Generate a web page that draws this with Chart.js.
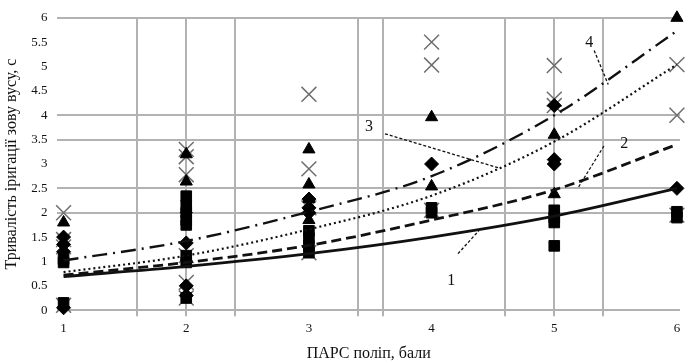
<!DOCTYPE html>
<html>
<head>
<meta charset="utf-8">
<script src="https://cdn.jsdelivr.net/npm/chart.js@4.4.1/dist/chart.umd.min.js"></script>
<style>
  html, body { margin: 0; padding: 0; background: #fff; }
  #wrap { width: 692px; height: 363px; }
  canvas { filter: blur(0.4px); }
</style>
</head>
<body>
<div id="wrap"><canvas id="myChart" width="692" height="363"></canvas></div>
<script>
// axis labels + the few grid lines that show in the scan
const xTickLabels = [1, 2, 3, 4, 5, 6]
const yTickLabels = [0, 0.5, 1, 1.5, 2, 2.5, 3, 3.5, 4, 4.5, 5, 5.5, 6]
const xGridLines = [1.6, 2, 2.4, 3.4, 3.6, 4.6, 5, 5.4]
const yGridLines = [0, 2, 2.5, 3.5, 4, 6]

// measured points
const diamondX = [1, 1, 1, 1, 2, 2, 2, 3, 3, 3, 4, 5, 5, 5, 6]
const diamondY = [1.5, 1.35, 1.2, 0.05, 1.38, 0.5, 0.3, 2.28, 2.1, 2.0, 3.0, 4.2, 3.09, 3.0, 2.5]

const squareX = [1, 1, 1, 2, 2, 2, 2, 2, 2, 2, 2, 3, 3, 3, 3, 4, 4, 5, 5, 5, 5, 6, 6]
const squareY = [1.05, 0.98, 0.15, 2.34, 2.15, 2.0, 1.85, 1.75, 1.12, 0.98, 0.25, 1.63, 1.48, 1.32, 1.18, 2.1, 2.0, 2.05, 1.9, 1.8, 1.32, 2.02, 1.9]

const triangleX = [1, 2, 2, 2, 3, 3, 3, 3, 4, 4, 5, 5, 6]
const triangleY = [1.8, 3.2, 2.64, 2.07, 3.3, 2.58, 2.28, 1.85, 3.96, 2.54, 3.6, 2.38, 6.0]

const crossX = [1, 1, 1, 1, 2, 2, 2, 2, 2, 2, 3, 3, 3, 3, 4, 4, 4, 5, 5, 5, 6, 6, 6]
const crossY = [2.0, 1.45, 1.3, 0.1, 3.3, 3.15, 2.78, 1.12, 0.57, 0.25, 4.43, 2.9, 2.1, 1.18, 5.5, 5.03, 2.05, 5.02, 4.33, 4.2, 5.04, 4.0, 1.95]

// trend curves 1..4 read at each x
const trendX = [1, 2, 3, 4, 5, 6]
const trend1 = [0.69, 0.9, 1.16, 1.5, 1.93, 2.5]
const trend2 = [0.72, 0.98, 1.33, 1.85, 2.47, 3.4]
const trend3 = [0.78, 1.12, 1.66, 2.35, 3.46, 5.04]
const trend4 = [1.02, 1.42, 2.02, 2.75, 4.0, 5.73]

const serif = 'Liberation Serif'
const ink = '#111'
const gridGray = '#b2b2b2'

function pts(xs, ys) {
    return xs.map((x, i) => ({ x: x, y: ys[i] }))
}

function trendSet(ys, dash, width) {
    return {
        type: 'line',
        data: pts(trendX, ys),
        borderColor: ink,
        borderWidth: width,
        borderDash: dash,
        pointRadius: 0,
        cubicInterpolationMode: 'monotone',
        fill: false
    }
}

function markerSet(xs, ys, style, radius, color) {
    return {
        type: 'scatter',
        data: pts(xs, ys),
        pointStyle: style,
        pointRadius: radius,
        backgroundColor: color,
        borderColor: color,
        borderWidth: style === 'crossRot' ? 1.5 : 1,
        clip: false
    }
}

// curve numbers with their leader lines (in data units)
const callouts = [
    { text: '1', at: [4.16, 0.61], from: [4.215, 1.16], to: [4.385, 1.63] },
    { text: '2', at: [5.57, 3.41], from: [5.405, 3.37], to: [5.196, 2.52] },
    { text: '3', at: [3.49, 3.76], from: [3.62, 3.62], to: [4.56, 2.91] },
    { text: '4', at: [5.285, 5.49], from: [5.325, 5.33], to: [5.44, 4.63] }
]

const calloutPlugin = {
    id: 'callouts',
    afterDatasetsDraw(chart) {
        const ctx = chart.ctx
        const xs = chart.scales.x
        const ys = chart.scales.y
        ctx.save()
        ctx.strokeStyle = ink
        ctx.lineWidth = 1.3
        ctx.setLineDash([3, 2])
        ctx.fillStyle = ink
        ctx.font = '16px ' + serif
        ctx.textAlign = 'center'
        ctx.textBaseline = 'middle'
        callouts.forEach(c => {
            ctx.beginPath()
            ctx.moveTo(xs.getPixelForValue(c.from[0]), ys.getPixelForValue(c.from[1]))
            ctx.lineTo(xs.getPixelForValue(c.to[0]), ys.getPixelForValue(c.to[1]))
            ctx.stroke()
            ctx.fillText(c.text, xs.getPixelForValue(c.at[0]), ys.getPixelForValue(c.at[1]))
        })
        ctx.restore()
    }
}

const myChart = new Chart(document.getElementById('myChart'), {
    data: {
        datasets: [
            trendSet(trend1, [], 2.8),
            trendSet(trend2, [10, 5], 2.8),
            trendSet(trend3, [2, 3], 2.2),
            trendSet(trend4, [15, 6, 2, 6], 2.4),
            markerSet(diamondX, diamondY, 'rectRot', 7, '#000'),
            markerSet(squareX, squareY, 'rect', 7.5, '#000'),
            markerSet(triangleX, triangleY, 'triangle', 7, '#000'),
            markerSet(crossX, crossY, 'crossRot', 10.5, '#6e6e6e')
        ]
    },
    options: {
        responsive: false,
        animation: false,
        layout: { padding: { top: 8, right: 4, left: 2, bottom: 0 } },
        plugins: {
            legend: { display: false },
            tooltip: { enabled: false }
        },
        scales: {
            x: {
                type: 'linear',
                min: 0.95,
                max: 6.025,
                afterBuildTicks: axis => {
                    const all = [...new Set([...xTickLabels, ...xGridLines])].sort((a, b) => a - b)
                    axis.ticks = all.map(v => ({ value: v }))
                },
                ticks: {
                    autoSkip: false,
                    maxRotation: 0,
                    padding: 5,
                    color: ink,
                    font: { family: serif, size: 13 },
                    callback: v => xTickLabels.includes(v) ? String(v) : ''
                },
                grid: {
                    color: c => (c.tick && xGridLines.includes(c.tick.value)) ? gridGray : 'rgba(0,0,0,0)',
                    lineWidth: 2,
                    tickLength: 6
                },
                border: { display: false },
                title: {
                    display: true,
                    text: 'ПАРС поліп, бали',
                    color: ink,
                    font: { family: serif, size: 16 },
                    padding: { top: 2, bottom: 0 }
                }
            },
            y: {
                type: 'linear',
                min: 0,
                max: 6,
                afterBuildTicks: axis => {
                    axis.ticks = yTickLabels.map(v => ({ value: v }))
                },
                ticks: {
                    autoSkip: false,
                    padding: 10,
                    color: ink,
                    font: { family: serif, size: 13 },
                    callback: v => String(v)
                },
                grid: {
                    color: c => (c.tick && yGridLines.includes(c.tick.value)) ? gridGray : 'rgba(0,0,0,0)',
                    lineWidth: 2,
                    drawTicks: false
                },
                border: { display: false },
                title: {
                    display: true,
                    text: 'Тривалість іригації зову вусу, с',
                    color: ink,
                    font: { family: serif, size: 16 },
                    padding: { top: 0, bottom: 0 }
                }
            }
        }
    },
    plugins: [calloutPlugin]
});
</script>
</body>
</html>
